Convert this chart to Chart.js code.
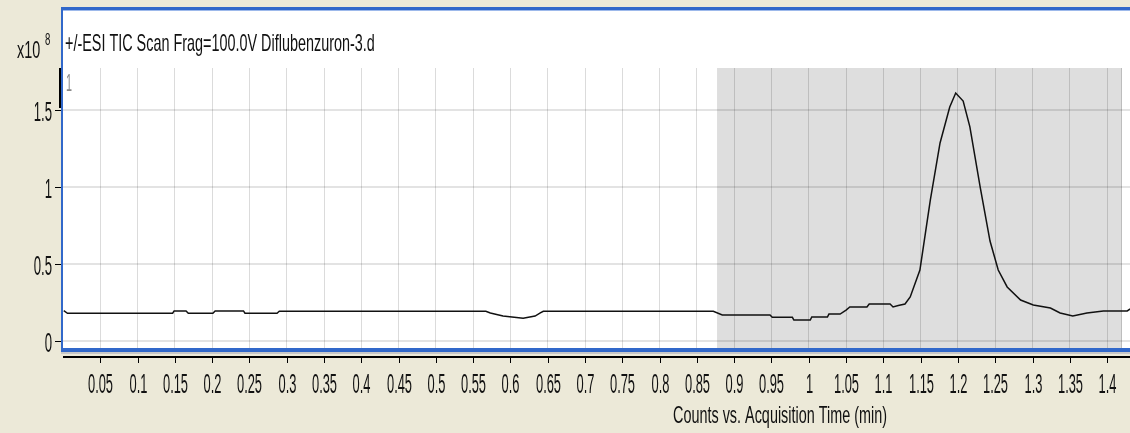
<!DOCTYPE html>
<html>
<head>
<meta charset="utf-8">
<script src="https://cdn.jsdelivr.net/npm/chart.js@4.4.1/dist/chart.umd.min.js"></script>
<style>
  html, body { margin: 0; padding: 0; background: #ECE9D8; overflow: hidden; }
  canvas { display: block; }
</style>
</head>
<body>
<canvas id="tic" width="1130" height="433"></canvas>
<script>
// acquisition time (min) and counts (x10^8)
const times = [0.001, 0.006, 0.147, 0.149, 0.165, 0.168, 0.201, 0.204, 0.242, 0.244, 0.287, 0.290,
  0.567, 0.573, 0.590, 0.617, 0.633, 0.640, 0.644, 0.872, 0.884, 0.948, 0.951, 0.978, 0.980,
  1.002, 1.004, 1.025, 1.027, 1.042, 1.050, 1.055, 1.078, 1.081, 1.109, 1.113, 1.120, 1.129,
  1.136, 1.149, 1.163, 1.176, 1.189, 1.197, 1.207, 1.216, 1.230, 1.243, 1.254, 1.266, 1.284,
  1.301, 1.324, 1.337, 1.354, 1.373, 1.395, 1.427, 1.431];
const counts = [0.197, 0.180, 0.180, 0.195, 0.195, 0.180, 0.180, 0.195, 0.195, 0.180, 0.180, 0.193,
  0.193, 0.182, 0.162, 0.147, 0.162, 0.182, 0.193, 0.193, 0.169, 0.169, 0.154, 0.154, 0.136,
  0.136, 0.156, 0.156, 0.175, 0.175, 0.201, 0.221, 0.221, 0.240, 0.240, 0.221, 0.230, 0.240,
  0.286, 0.461, 0.916, 1.286, 1.519, 1.610, 1.558, 1.390, 0.994, 0.649, 0.461, 0.351, 0.266,
  0.234, 0.214, 0.182, 0.162, 0.182, 0.195, 0.195, 0.208];

const xTicks = [0.05, 0.1, 0.15, 0.2, 0.25, 0.3, 0.35, 0.4, 0.45, 0.5, 0.55, 0.6, 0.65, 0.7,
  0.75, 0.8, 0.85, 0.9, 0.95, 1, 1.05, 1.1, 1.15, 1.2, 1.25, 1.3, 1.35, 1.4];
const yTicks = [0, 0.5, 1, 1.5];

const selectedRange = [0.877, 1.4186];
const titleText = '+/-ESI TIC Scan Frag=100.0V Diflubenzuron-3.d';
const xTitle = 'Counts vs. Acquisition Time (min)';

const BLUE = '#3168CA';
const FONT = '"Liberation Sans", Arial, sans-serif';

// the original screenshot is squeezed sideways, so text is drawn narrowed
function narrowText(ctx, text, x, y, size, sx, align, color) {
  ctx.save();
  ctx.font = size + 'px ' + FONT;
  ctx.fillStyle = color || '#111';
  ctx.textAlign = align;
  ctx.textBaseline = 'alphabetic';
  ctx.translate(x, y);
  ctx.scale(sx, 1);
  ctx.fillText(text, 0, 0);
  ctx.restore();
}

const panelPlugin = {
  id: 'panel',
  beforeDraw(chart) {
    const ctx = chart.ctx;
    const a = chart.chartArea;
    const xs = chart.scales.x;
    ctx.save();
    ctx.fillStyle = '#ECE9D8';
    ctx.fillRect(0, 0, chart.width, chart.height);
    ctx.fillStyle = '#fff';
    ctx.fillRect(61, 8, chart.width - 61, 344);
    const x0 = xs.getPixelForValue(selectedRange[0]);
    const x1 = xs.getPixelForValue(selectedRange[1]);
    ctx.fillStyle = '#DEDEDE';
    ctx.fillRect(x0, a.top, x1 - x0, a.bottom - a.top);
    ctx.strokeStyle = '#BDBDBD';
    ctx.lineWidth = 1;
    ctx.beginPath();
    ctx.moveTo(Math.round(x1) + 0.5, a.top);
    ctx.lineTo(Math.round(x1) + 0.5, a.bottom);
    ctx.stroke();
    ctx.restore();
  },
  afterDraw(chart) {
    const ctx = chart.ctx;
    const a = chart.chartArea;
    const xs = chart.scales.x;
    const ys = chart.scales.y;
    ctx.save();
    // blue frame
    ctx.fillStyle = BLUE;
    ctx.fillRect(61, 7, chart.width - 61, 3);
    ctx.fillRect(61, 7, 2, 345);
    ctx.fillRect(61, 348, chart.width - 61, 4);
    ctx.fillStyle = '#9DB9EB';
    ctx.fillRect(63, 10, chart.width - 63, 1);
    ctx.fillStyle = '#C8C8C8';
    ctx.fillRect(61, 352, chart.width - 61, 2);
    // short black axis piece at the top left
    ctx.fillStyle = '#000';
    ctx.fillRect(59, a.top, 2, 40);

    // y ticks and labels
    ctx.strokeStyle = '#000';
    ctx.lineWidth = 1;
    yTicks.forEach(v => {
      const y = Math.round(ys.getPixelForValue(v)) + 0.5;
      ctx.beginPath();
      ctx.moveTo(55, y);
      ctx.lineTo(61, y);
      ctx.stroke();
      narrowText(ctx, String(v), 52, y + 10, 28, 0.47, 'right');
    });

    // x axis line, ticks and labels
    ctx.fillStyle = '#000';
    ctx.fillRect(63, 356, chart.width - 63, 2);
    xTicks.forEach(v => {
      const x = Math.round(xs.getPixelForValue(v)) + 0.5;
      ctx.beginPath();
      ctx.moveTo(x, 357);
      ctx.lineTo(x, 363);
      ctx.stroke();
      narrowText(ctx, String(v), x, 393, 28, 0.46, 'center');
    });

    // texts
    narrowText(ctx, titleText, 65, 51, 24, 0.6, 'left');
    narrowText(ctx, 'x10', 17, 58, 24, 0.6, 'left');
    narrowText(ctx, '8', 45, 45, 16, 0.6, 'left');
    narrowText(ctx, xTitle, 780, 423, 24, 0.6, 'center');
    narrowText(ctx, '1', 66, 91, 24, 0.45, 'left', '#8a8a8a');
    ctx.restore();
  }
};

new Chart(document.getElementById('tic'), {
  type: 'line',
  data: {
    datasets: [{
      data: times.map((t, i) => ({ x: t, y: counts[i] })),
      borderColor: '#111',
      borderWidth: 1.5,
      pointRadius: 0,
      tension: 0,
      fill: false
    }]
  },
  options: {
    responsive: false,
    animation: false,
    devicePixelRatio: 1,
    layout: { padding: { top: 68, right: 0, left: 0, bottom: 0 } },
    plugins: { legend: { display: false }, tooltip: { enabled: false } },
    scales: {
      x: {
        type: 'linear',
        min: 0,
        max: 1.4307,
        afterBuildTicks: s => { s.ticks = xTicks.map(v => ({ value: v })); },
        afterFit: s => { s.height = 85; },
        ticks: { display: false },
        border: { display: false },
        grid: { color: 'rgba(0,0,0,0.14)', lineWidth: 1, drawTicks: false }
      },
      y: {
        min: -0.0455,
        max: 1.7727,
        afterBuildTicks: s => { s.ticks = yTicks.map(v => ({ value: v })); },
        afterFit: s => { s.width = 63; },
        ticks: { display: false },
        border: { display: false },
        grid: { color: 'rgba(0,0,0,0.11)', lineWidth: 2, drawTicks: false }
      }
    }
  },
  plugins: [panelPlugin]
});
</script>
</body>
</html>
